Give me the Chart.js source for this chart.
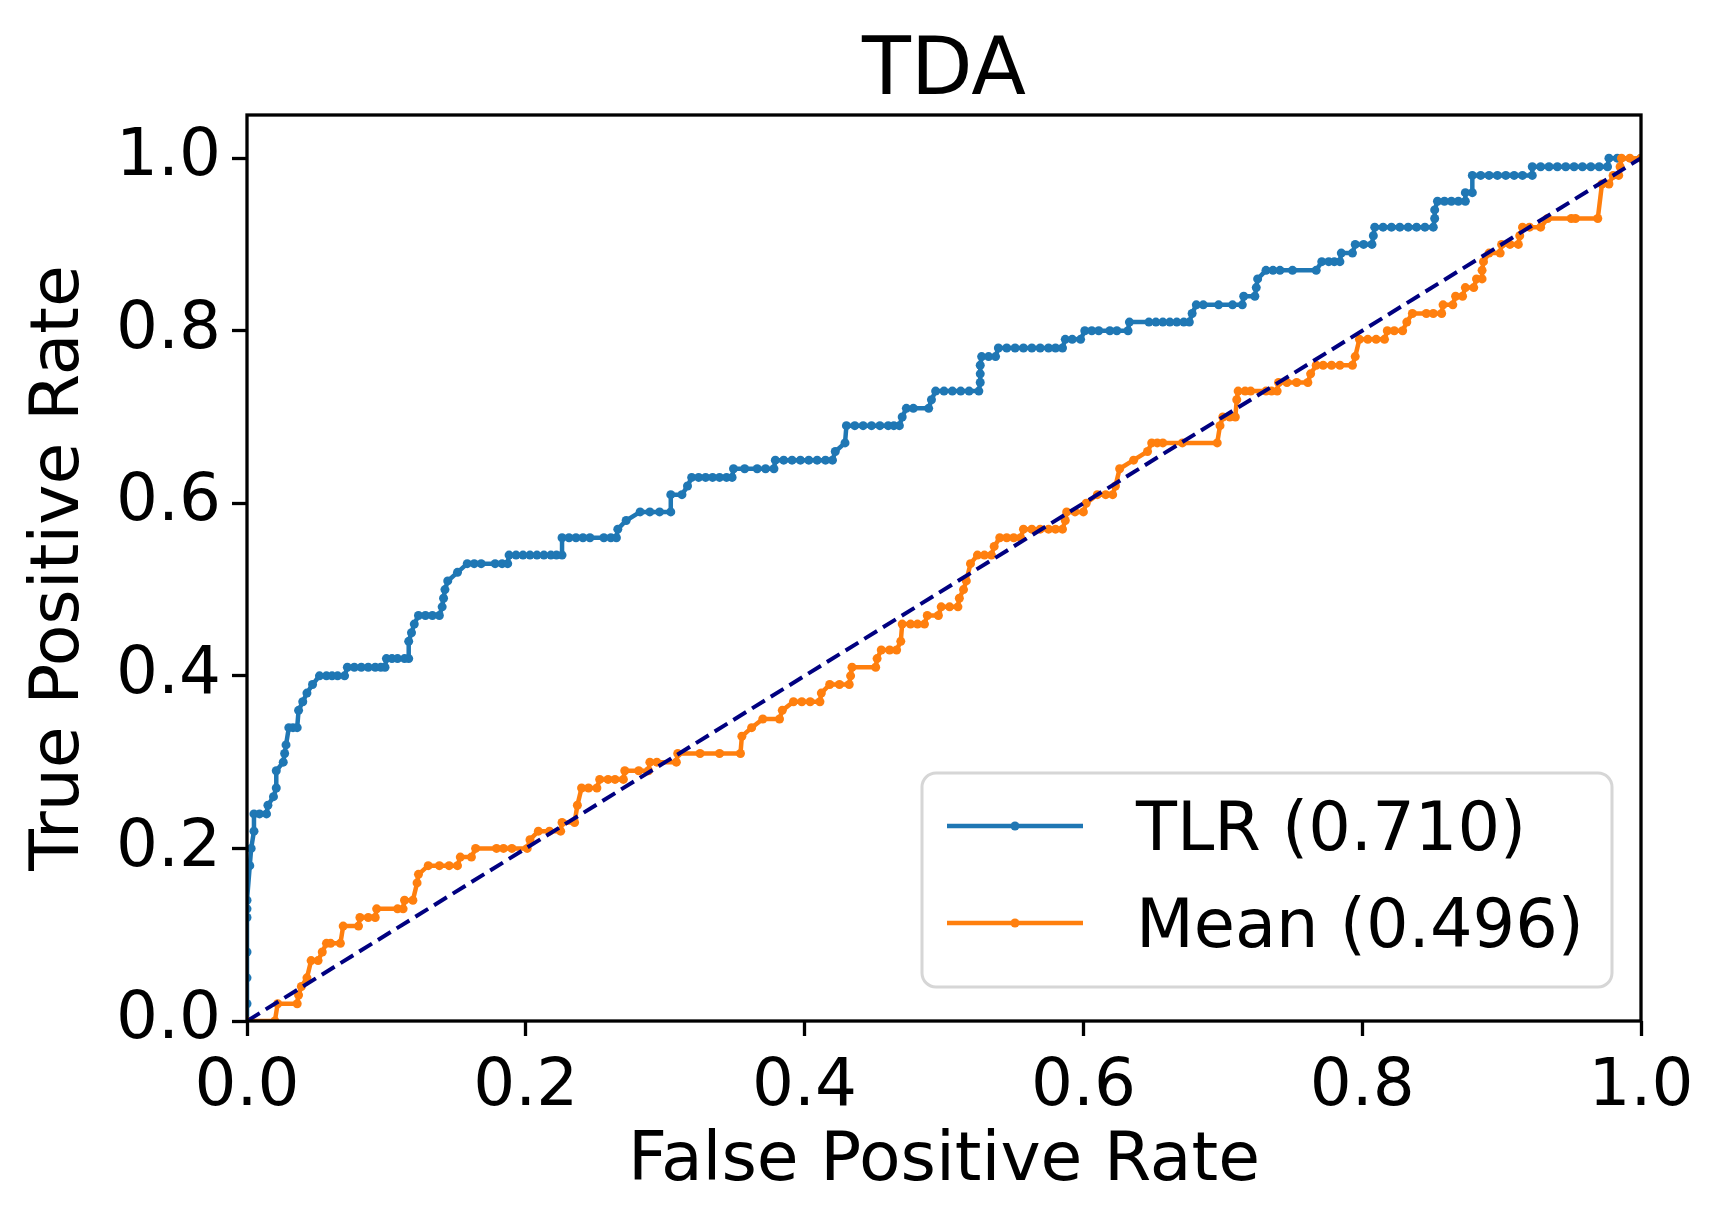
<!DOCTYPE html>
<html>
<head>
<meta charset="utf-8">
<script src="https://cdn.jsdelivr.net/npm/chart.js@4.4.0/dist/chart.umd.min.js"></script>
<style>
  html, body { margin: 0; padding: 0; background: #fff; }
  canvas { display: block; }
</style>
</head>
<body>
<canvas id="roc" width="1723" height="1225" style="width:1723px;height:1225px"></canvas>
<script>
// ---- data ----
const chartTitle = 'TDA';
const xTitle = 'False Positive Rate';
const yTitle = 'True Positive Rate';
const seriesNames = ['TLR (0.710)', 'Mean (0.496)'];
const xTicks = [0, 0.2, 0.4, 0.6, 0.8, 1.0];
const yTicks = [0, 0.2, 0.4, 0.6, 0.8, 1.0];

// [fpr, tpr]
const tlrPoints = [
  [0,0],[0,0.02],[0,0.05],[0,0.08],[0,0.12],[0,0.13],[0,0.14],[0.002,0.18],[0.003,0.20],
  [0.005,0.22],[0.005,0.24],[0.009,0.24],[0.014,0.24],[0.015,0.25],[0.019,0.26],[0.021,0.27],[0.021,0.29],
  [0.026,0.30],[0.027,0.31],[0.028,0.32],[0.030,0.34],[0.033,0.34],[0.036,0.34],[0.037,0.36],[0.040,0.37],
  [0.043,0.38],[0.047,0.39],[0.052,0.40],[0.057,0.40],[0.061,0.40],[0.065,0.40],[0.070,0.40],[0.072,0.41],
  [0.077,0.41],[0.082,0.41],[0.087,0.41],[0.092,0.41],[0.096,0.41],[0.099,0.41],[0.100,0.42],[0.104,0.42],
  [0.108,0.42],[0.113,0.42],[0.116,0.42],[0.116,0.44],[0.118,0.45],[0.120,0.46],[0.123,0.47],[0.128,0.47],
  [0.133,0.47],[0.138,0.47],[0.140,0.48],[0.141,0.49],[0.142,0.50],[0.144,0.51],[0.151,0.52],[0.158,0.53],
  [0.163,0.53],[0.168,0.53],[0.178,0.53],[0.183,0.53],[0.187,0.53],[0.188,0.54],[0.193,0.54],[0.198,0.54],
  [0.203,0.54],[0.208,0.54],[0.213,0.54],[0.218,0.54],[0.222,0.54],[0.226,0.54],[0.226,0.56],[0.231,0.56],
  [0.236,0.56],[0.241,0.56],[0.246,0.56],[0.256,0.56],[0.261,0.56],[0.265,0.56],[0.266,0.57],[0.272,0.58],
  [0.282,0.59],[0.289,0.59],[0.296,0.59],[0.304,0.59],[0.304,0.61],[0.312,0.61],[0.316,0.62],[0.319,0.63],
  [0.324,0.63],[0.329,0.63],[0.334,0.63],[0.339,0.63],[0.344,0.63],[0.348,0.63],[0.349,0.64],[0.357,0.64],
  [0.366,0.64],[0.372,0.64],[0.378,0.64],[0.379,0.65],[0.385,0.65],[0.391,0.65],[0.397,0.65],[0.403,0.65],
  [0.409,0.65],[0.415,0.65],[0.420,0.65],[0.422,0.66],[0.429,0.67],[0.430,0.69],[0.436,0.69],[0.442,0.69],
  [0.448,0.69],[0.454,0.69],[0.460,0.69],[0.464,0.69],[0.468,0.69],[0.470,0.70],[0.473,0.71],[0.478,0.71],
  [0.489,0.71],[0.491,0.72],[0.494,0.73],[0.500,0.73],[0.506,0.73],[0.512,0.73],[0.518,0.73],[0.525,0.73],
  [0.526,0.74],[0.526,0.75],[0.526,0.76],[0.527,0.77],[0.532,0.77],[0.537,0.77],[0.539,0.78],[0.545,0.78],
  [0.551,0.78],[0.557,0.78],[0.563,0.78],[0.569,0.78],[0.575,0.78],[0.580,0.78],[0.585,0.78],[0.587,0.79],
  [0.592,0.79],[0.598,0.79],[0.601,0.80],[0.606,0.80],[0.611,0.80],[0.619,0.80],[0.624,0.80],[0.632,0.80],
  [0.633,0.81],[0.647,0.81],[0.652,0.81],[0.657,0.81],[0.662,0.81],[0.667,0.81],[0.672,0.81],[0.676,0.81],
  [0.678,0.82],[0.681,0.83],[0.686,0.83],[0.697,0.83],[0.707,0.83],[0.714,0.83],[0.715,0.84],[0.723,0.84],
  [0.724,0.85],[0.725,0.86],[0.731,0.87],[0.736,0.87],[0.741,0.87],[0.750,0.87],[0.767,0.87],[0.771,0.88],
  [0.776,0.88],[0.780,0.88],[0.784,0.88],[0.785,0.89],[0.793,0.89],[0.795,0.90],[0.801,0.90],[0.807,0.90],
  [0.808,0.91],[0.809,0.92],[0.815,0.92],[0.821,0.92],[0.827,0.92],[0.833,0.92],[0.839,0.92],[0.845,0.92],
  [0.851,0.92],[0.852,0.93],[0.852,0.94],[0.854,0.95],[0.859,0.95],[0.864,0.95],[0.869,0.95],[0.874,0.95],
  [0.874,0.96],[0.879,0.96],[0.879,0.98],[0.885,0.98],[0.891,0.98],[0.897,0.98],[0.903,0.98],[0.909,0.98],
  [0.915,0.98],[0.922,0.98],[0.922,0.99],[0.928,0.99],[0.934,0.99],[0.940,0.99],[0.946,0.99],[0.952,0.99],
  [0.958,0.99],[0.964,0.99],[0.970,0.99],[0.976,0.99],[0.977,1.0],[0.983,1.0],[1.0,1.0]
];

const meanPoints = [
  [0,0],[0.020,0],[0.022,0.02],[0.036,0.02],[0.037,0.03],[0.039,0.04],[0.043,0.05],[0.046,0.07],
  [0.051,0.07],[0.054,0.08],[0.057,0.09],[0.060,0.09],[0.067,0.09],[0.069,0.11],[0.080,0.11],[0.081,0.12],
  [0.087,0.12],[0.092,0.12],[0.093,0.13],[0.108,0.13],[0.112,0.13],[0.113,0.14],[0.119,0.14],[0.122,0.16],
  [0.123,0.17],[0.130,0.18],[0.138,0.18],[0.145,0.18],[0.151,0.18],[0.153,0.19],[0.161,0.19],[0.164,0.20],
  [0.179,0.20],[0.184,0.20],[0.190,0.20],[0.201,0.20],[0.203,0.21],[0.209,0.22],[0.217,0.22],[0.225,0.22],
  [0.226,0.23],[0.235,0.23],[0.237,0.25],[0.240,0.27],[0.245,0.27],[0.251,0.27],[0.253,0.28],[0.259,0.28],
  [0.264,0.28],[0.270,0.28],[0.271,0.29],[0.281,0.29],[0.288,0.29],[0.289,0.30],[0.294,0.30],[0.308,0.30],
  [0.309,0.31],[0.325,0.31],[0.339,0.31],[0.354,0.31],[0.355,0.33],[0.362,0.34],[0.370,0.35],[0.382,0.35],
  [0.384,0.36],[0.392,0.37],[0.398,0.37],[0.404,0.37],[0.411,0.37],[0.412,0.38],[0.418,0.39],[0.425,0.39],
  [0.432,0.39],[0.433,0.40],[0.434,0.41],[0.451,0.41],[0.452,0.42],[0.455,0.43],[0.461,0.43],[0.466,0.43],
  [0.469,0.44],[0.470,0.46],[0.476,0.46],[0.481,0.46],[0.486,0.46],[0.488,0.47],[0.496,0.47],[0.498,0.48],
  [0.504,0.48],[0.510,0.48],[0.511,0.49],[0.514,0.50],[0.516,0.51],[0.519,0.53],[0.524,0.54],[0.529,0.54],
  [0.534,0.54],[0.536,0.55],[0.540,0.56],[0.545,0.56],[0.550,0.56],[0.555,0.56],[0.557,0.57],[0.563,0.57],
  [0.569,0.57],[0.575,0.57],[0.580,0.57],[0.585,0.57],[0.587,0.58],[0.588,0.59],[0.594,0.59],[0.600,0.59],
  [0.602,0.60],[0.610,0.61],[0.616,0.61],[0.621,0.61],[0.623,0.62],[0.626,0.64],[0.636,0.65],[0.646,0.66],
  [0.649,0.67],[0.653,0.67],[0.657,0.67],[0.671,0.67],[0.696,0.67],[0.698,0.69],[0.700,0.70],[0.705,0.70],
  [0.709,0.70],[0.710,0.72],[0.711,0.73],[0.716,0.73],[0.720,0.73],[0.731,0.73],[0.735,0.73],[0.739,0.73],
  [0.740,0.74],[0.746,0.74],[0.753,0.74],[0.761,0.74],[0.763,0.75],[0.767,0.76],[0.772,0.76],[0.778,0.76],
  [0.784,0.76],[0.793,0.76],[0.795,0.77],[0.798,0.79],[0.804,0.79],[0.810,0.79],[0.816,0.79],[0.818,0.80],
  [0.823,0.80],[0.829,0.80],[0.832,0.81],[0.836,0.82],[0.846,0.82],[0.851,0.82],[0.857,0.82],[0.858,0.83],
  [0.865,0.83],[0.867,0.84],[0.872,0.84],[0.874,0.85],[0.880,0.85],[0.882,0.86],[0.886,0.86],[0.886,0.87],
  [0.887,0.88],[0.891,0.89],[0.899,0.89],[0.900,0.90],[0.906,0.90],[0.912,0.90],[0.913,0.91],[0.915,0.92],
  [0.920,0.92],[0.928,0.92],[0.933,0.93],[0.950,0.93],[0.953,0.93],[0.969,0.93],[0.972,0.97],[0.977,0.97],
  [0.980,0.98],[0.984,0.98],[0.985,0.99],[0.986,1.0],[0.992,1.0],[1.0,1.0]
];

const chancePoints = [[0,0],[1,1]];

const seriesColors = ['#1f77b4', '#ff7f0e'];
const chanceColor = '#000080';
const FONT = "'DejaVu Sans', 'Liberation Sans', sans-serif";

const toXY = pts => pts.map(([x, y]) => ({ x, y }));

// title centred over the plot area, plus the closed axes frame
const framePlugin = {
  id: 'frame',
  afterDraw(chart) {
    const { ctx, chartArea: a } = chart;
    ctx.save();
    ctx.strokeStyle = '#000';
    ctx.lineWidth = 3.3;
    ctx.strokeRect(a.left, a.top, a.right - a.left, a.bottom - a.top);
    ctx.fillStyle = '#000';
    ctx.font = '80px ' + FONT;
    ctx.textAlign = 'center';
    ctx.textBaseline = 'alphabetic';
    ctx.fillText(chartTitle, (a.left + a.right) / 2, 94);
    ctx.restore();
  }
};

// matplotlib-like legend box in the lower right
const legendPlugin = {
  id: 'boxLegend',
  afterDraw(chart) {
    const { ctx } = chart;
    const box = { x: 922, y: 773, w: 690, h: 214, r: 14 };
    ctx.save();
    ctx.beginPath();
    ctx.roundRect(box.x, box.y, box.w, box.h, box.r);
    ctx.fillStyle = 'rgba(255,255,255,0.8)';
    ctx.fill();
    ctx.lineWidth = 3;
    ctx.strokeStyle = '#d6d6d6';
    ctx.stroke();

    seriesNames.forEach((name, i) => {
      const y = 826 + i * 97;
      ctx.beginPath();
      ctx.moveTo(947, y);
      ctx.lineTo(1083, y);
      ctx.strokeStyle = seriesColors[i];
      ctx.lineWidth = 4.5;
      ctx.stroke();
      ctx.beginPath();
      ctx.arc(1015, y, 4.5, 0, Math.PI * 2);
      ctx.fillStyle = seriesColors[i];
      ctx.fill();
      ctx.fillStyle = '#000';
      ctx.font = '67px ' + FONT;
      ctx.textAlign = 'left';
      ctx.textBaseline = 'middle';
      ctx.fillText(name, 1136, y + 7);
    });
    ctx.restore();
  }
};

const axisCommon = (ticks, title, titlePadding) => ({
  type: 'linear',
  afterBuildTicks: scale => { scale.ticks = ticks.map(v => ({ value: v })); },
  grid: {
    display: true,
    drawOnChartArea: false,
    drawTicks: true,
    tickLength: 15,
    tickWidth: 3.3,
    tickColor: '#000'
  },
  border: { display: false },
  ticks: {
    color: '#000',
    font: { family: FONT, size: 66 },
    autoSkip: false,
    maxRotation: 0,
    callback: v => Number(v).toFixed(1)
  },
  title: {
    display: true,
    text: title,
    color: '#000',
    font: { family: FONT, size: 68 },
    padding: titlePadding
  }
});

const xAxis = axisCommon(xTicks, xTitle, { top: 0, bottom: 22 });
xAxis.min = 0;
xAxis.max = 1;
xAxis.ticks.padding = 12;
xAxis.afterFit = scale => { scale.height = 204; };

const yAxis = axisCommon(yTicks, yTitle, { top: 20, bottom: 0 });
yAxis.min = 0;
yAxis.max = 1.05;
yAxis.ticks.padding = 11;
yAxis.afterFit = scale => { scale.width = 247; };

new Chart(document.getElementById('roc'), {
  type: 'scatter',
  data: {
    datasets: [
      {
        label: 'chance',
        data: toXY(chancePoints),
        showLine: true,
        borderColor: chanceColor,
        borderWidth: 4,
        borderDash: [15, 7],
        pointRadius: 0,
        order: 0
      },
      {
        label: seriesNames[1],
        data: toXY(meanPoints),
        showLine: true,
        borderColor: seriesColors[1],
        backgroundColor: seriesColors[1],
        borderWidth: 4.5,
        pointRadius: 4.5,
        pointBorderWidth: 0,
        order: 1
      },
      {
        label: seriesNames[0],
        data: toXY(tlrPoints),
        showLine: true,
        borderColor: seriesColors[0],
        backgroundColor: seriesColors[0],
        borderWidth: 4.5,
        pointRadius: 4.5,
        pointBorderWidth: 0,
        order: 2
      }
    ]
  },
  options: {
    responsive: false,
    devicePixelRatio: 1,
    animation: false,
    layout: { padding: { top: 115, right: 82, bottom: 0, left: 0 } },
    plugins: {
      legend: { display: false },
      title: { display: false },
      tooltip: { enabled: false }
    },
    scales: { x: xAxis, y: yAxis }
  },
  plugins: [framePlugin, legendPlugin]
});
</script>
</body>
</html>
